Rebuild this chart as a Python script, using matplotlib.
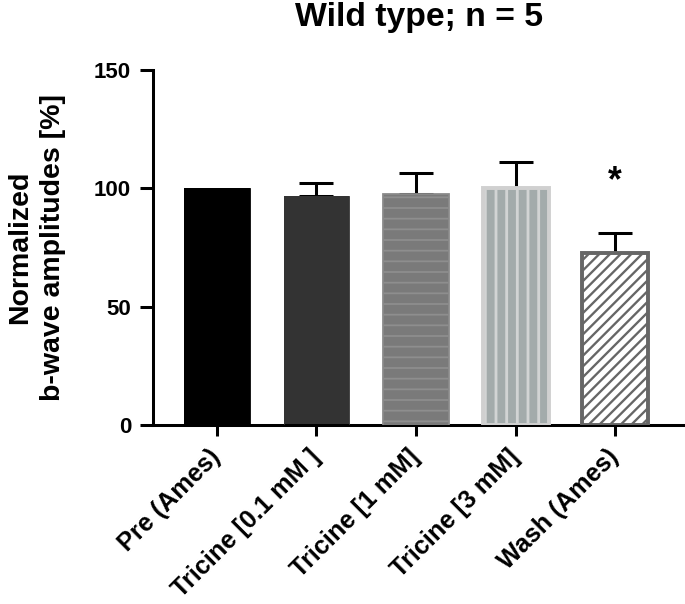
import matplotlib
matplotlib.use("Agg")
import matplotlib.pyplot as plt

categories = ["Pre (Ames)", "Tricine [0.1 mM ]", "Tricine [1 mM]", "Tricine [3 mM]", "Wash (Ames)"]
means = [100.0, 96.7, 97.5, 100.0, 72.8]
sem_upper = [0.0, 5.4, 8.8, 11.2, 8.2]
yticks = [0, 50, 100, 150]
title = "Wild type; n = 5"
ylabel = "Normalized\nb-wave amplitudes [%]"
star_index = 4
star_text = "*"

face_colors = ["#000000", "#333333", "#7a7a7a", "#a3abab", "#ffffff"]
hatch_colors = ["#000000", "#333333", "#8e8e8e", "#d2d4d4", "#666666"]
hatches = [None, None, "--", "||", "////"]
edge_colors = ["#000000", "#333333", "#8a8a8a", "#d0d0d0", "#666666"]
edge_widths = [0.5, 0.5, 1.0, 2.2, 2.2]
hatch_lw = [1.0, 1.0, 1.0, 1.6, 1.3]

DPI = 128
plt.rcParams['font.family'] = ['Liberation Sans', 'DejaVu Sans']
plt.rcParams['font.weight'] = 'bold'

fig = plt.figure(figsize=(685 / DPI, 604 / DPI), dpi=DPI)
ax = fig.add_axes([153 / 685, (604 - 425) / 604, 1 - 153 / 685, (425 - 70) / 604])

x = list(range(len(categories)))
width = 0.66
for i in x:
    with plt.rc_context({'hatch.linewidth': hatch_lw[i]}):
        ax.bar(i, means[i], width=width, color=face_colors[i], edgecolor=hatch_colors[i],
               hatch=hatches[i], linewidth=0, zorder=2)
    ax.bar(i, means[i], width=width, fill=False, edgecolor=edge_colors[i],
           linewidth=edge_widths[i], zorder=3)

lw = 1.7
err_idx = [i for i in x if sem_upper[i] > 0]
ax.errorbar([x[i] for i in err_idx], [means[i] for i in err_idx],
            yerr=[[0] * len(err_idx), [sem_upper[i] for i in err_idx]], fmt='none',
            ecolor='black', elinewidth=lw, capsize=9.3, capthick=lw, zorder=1)

ax.text(star_index, means[star_index] + sem_upper[star_index] + 22, star_text,
        ha='center', va='center', fontsize=20, fontweight='bold')

ax.set_xlim(-0.64, 4.70)
ax.set_ylim(0, 150)
ax.set_yticks(yticks)
ax.set_xticks(x)
ax.set_xticklabels(categories, rotation=45, ha='right', va='center', rotation_mode='anchor',
                   fontsize=14.2, fontweight='bold')
for lab in ax.get_yticklabels():
    lab.set_fontsize(12.5)
    lab.set_fontweight('bold')

for s in ['top', 'right']:
    ax.spines[s].set_visible(False)
for s in ['left', 'bottom']:
    ax.spines[s].set_linewidth(lw)
ax.tick_params(axis='y', length=7.3, width=lw, direction='out', pad=5.0)
ax.tick_params(axis='x', length=6.0, width=lw, direction='out', pad=10)

ax.set_ylabel(ylabel, fontsize=16, fontweight='bold', labelpad=16, linespacing=1.3)
ax.set_title(title, fontsize=19, fontweight='bold', pad=25)

fig.savefig("out.png", dpi=DPI)
